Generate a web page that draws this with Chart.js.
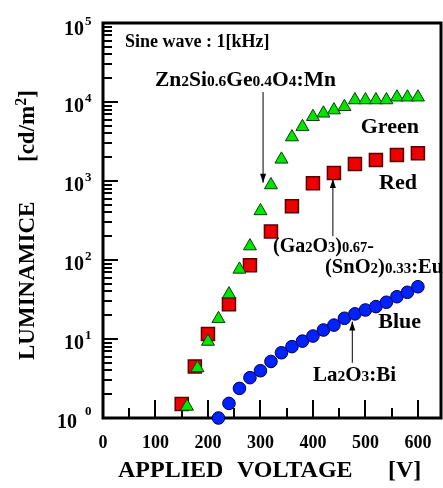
<!DOCTYPE html>
<html>
<head>
<meta charset="utf-8">
<script src="https://cdn.jsdelivr.net/npm/chart.js@4/dist/chart.umd.min.js"></script>
<style>
  html, body { margin: 0; padding: 0; background: #fff; overflow: hidden; }
  #c { display: block; }
</style>
</head>
<body>
<canvas id="c" width="443" height="488"></canvas>
<script>
// luminance vs applied voltage, sine wave 1 kHz
const greenVolts = [160, 180, 200, 220, 240, 260, 280, 300, 320, 340, 360, 380, 400, 420, 440, 460, 480, 500, 520, 540, 560, 580, 600];
const greenLum = [1.4, 4.3, 9.3, 18, 37, 76, 150, 418, 890, 1880, 3600, 4850, 6500, 7200, 7900, 8700, 10600, 10600, 10600, 10600, 11500, 11500, 11500];

const redVolts = [150, 175, 200, 240, 280, 320, 360, 400, 440, 480, 520, 560, 600];
const redLum = [1.5, 4.5, 11.6, 27.5, 86, 230, 480, 935, 1260, 1640, 1850, 2140, 2250];

const blueVolts = [220, 240, 260, 280, 300, 320, 340, 360, 380, 400, 420, 440, 460, 480, 500, 520, 540, 560, 580, 600];
const blueLum = [1.0, 1.53, 2.37, 3.24, 3.97, 5.2, 6.7, 8.0, 9.4, 10.9, 13, 15, 18.3, 20.8, 23.3, 25.7, 29.2, 34.3, 39, 45.9];

const xTickLabels = [0, 100, 200, 300, 400, 500, 600];
const xMinorTicks = [50, 150, 250, 350, 450, 550];
const yDecadeExps = [0, 1, 2, 3, 4, 5];

const SERIF = '"Liberation Serif", "Times New Roman", serif';
const font = (px) => 'bold ' + px + 'px ' + SERIF;

function pts(xs, ys) {
  return xs.map((v, i) => ({ x: v, y: ys[i] }));
}

// text made of parts [text, size, raise]
function rich(ctx, parts, x, y, align) {
  let w = 0;
  parts.forEach(p => { ctx.font = font(p[1]); w += ctx.measureText(p[0]).width; });
  let cx = align === 'right' ? x - w : align === 'center' ? x - w / 2 : x;
  ctx.textAlign = 'left';
  ctx.textBaseline = 'alphabetic';
  parts.forEach(p => {
    ctx.font = font(p[1]);
    ctx.fillText(p[0], cx, y - (p[2] || 0));
    cx += ctx.measureText(p[0]).width;
  });
}

function arrow(ctx, x, y1, y2) {
  ctx.beginPath();
  ctx.moveTo(x, y1);
  ctx.lineTo(x, y2);
  ctx.stroke();
  const d = y2 > y1 ? -1 : 1;
  ctx.beginPath();
  ctx.moveTo(x, y2);
  ctx.lineTo(x - 3, y2 + d * 9);
  ctx.lineTo(x + 3, y2 + d * 9);
  ctx.closePath();
  ctx.fill();
}

const framePlugin = {
  id: 'frame',
  beforeDatasetsDraw(chart) {
    const { ctx, chartArea: a, scales: { x, y } } = chart;
    ctx.save();
    ctx.strokeStyle = '#000';
    ctx.lineCap = 'square';
    ctx.lineWidth = 3;
    ctx.strokeRect(a.left, a.top, a.right - a.left, a.bottom - a.top);

    ctx.lineCap = 'butt';
    ctx.lineWidth = 2;
    ctx.beginPath();
    xTickLabels.concat(xMinorTicks).forEach(v => {
      if (v === 0) return;
      const px = Math.round(x.getPixelForValue(v));
      const len = v % 100 === 0 ? 18 : 10;
      ctx.moveTo(px, a.bottom);
      ctx.lineTo(px, a.bottom - len);
    });
    yDecadeExps.forEach(e => {
      for (let m = 1; m <= 9; m++) {
        if (e === 5 && m > 1) break;
        if (e === 0 && m === 1) continue;
        const py = Math.round(y.getPixelForValue(m * Math.pow(10, e)));
        const len = m === 1 ? 15 : 9;
        ctx.moveTo(a.left, py);
        ctx.lineTo(a.left + len, py);
      }
    });
    ctx.stroke();
    ctx.restore();
  },
  afterDraw(chart) {
    const { ctx, scales: { x, y } } = chart;
    ctx.save();
    ctx.fillStyle = '#000';
    ctx.strokeStyle = '#000';

    // x tick labels
    ctx.font = font(18);
    ctx.textAlign = 'center';
    ctx.textBaseline = 'middle';
    xTickLabels.forEach(v => ctx.fillText(String(v), x.getPixelForValue(v), 443));

    // y tick labels 10^n
    yDecadeExps.forEach(e => {
      const py = y.getPixelForValue(Math.pow(10, e));
      if (e === 0) {
        ctx.font = font(20); ctx.textAlign = 'right'; ctx.textBaseline = 'alphabetic';
        ctx.fillText('10', 77, py + 10);
        ctx.font = font(13); ctx.textAlign = 'left';
        ctx.fillText('0', 85, py - 3);
      } else {
        const off = e === 5 ? 12 : 10;
        ctx.font = font(20); ctx.textAlign = 'right'; ctx.textBaseline = 'alphabetic';
        ctx.fillText('10', 84, py + off);
        ctx.font = font(13); ctx.textAlign = 'left';
        ctx.fillText(String(e), 85, py + off - 10);
      }
    });

    // axis titles
    rich(ctx, [['APPLIED', 24]], 118, 477, 'left');
    rich(ctx, [['VOLTAGE', 24]], 237, 477, 'left');
    rich(ctx, [['[V]', 24]], 388, 477, 'left');
    ctx.save();
    ctx.translate(34, 0);
    ctx.rotate(-Math.PI / 2);
    rich(ctx, [['LUMINAMICE', 23]], -360, 0, 'left');
    rich(ctx, [['[cd/m', 23], ['2', 16, 8], [']', 23]], -162, 0, 'left');
    ctx.restore();

    // annotations
    rich(ctx, [['Sine wave : 1[kHz]', 18]], 125, 47, 'left');
    rich(ctx, [['Zn', 21.5], ['2', 15.5], ['Si', 21.5], ['0.6', 15.5], ['Ge', 21.5], ['0.4', 15.5], ['O', 21.5], ['4', 15.5], [':Mn', 21.5]], 155, 86, 'left');
    rich(ctx, [['Green', 22]], 419, 133, 'right');
    rich(ctx, [['Red', 22]], 417, 189, 'right');
    rich(ctx, [['Blue', 22]], 421, 328, 'right');
    rich(ctx, [['(Ga', 20], ['2', 14.5], ['O', 20], ['3', 14.5], [')', 20], ['0.67', 14.5], ['-', 20]], 273, 252, 'left');
    rich(ctx, [['(SnO', 20.5], ['2', 15], [')', 20.5], ['0.33', 15], [':Eu', 20.5]], 325, 273, 'left');
    rich(ctx, [['La', 21], ['2', 15.5], ['O', 21], ['3', 15.5], [':Bi', 21]], 313, 381, 'left');

    ctx.lineWidth = 1;
    arrow(ctx, x.getPixelForValue(305), y.getPixelForValue(13400), y.getPixelForValue(950));
    arrow(ctx, x.getPixelForValue(438), y.getPixelForValue(200), y.getPixelForValue(1060));
    arrow(ctx, x.getPixelForValue(475), y.getPixelForValue(5.0), y.getPixelForValue(16.6));
    ctx.restore();
  }
};

new Chart(document.getElementById('c'), {
  type: 'scatter',
  data: {
    datasets: [
      {
        label: 'Green',
        data: pts(greenVolts, greenLum),
        pointStyle: 'triangle',
        pointRadius: 7.5,
        backgroundColor: '#00e600',
        borderColor: '#0b3d0b',
        borderWidth: 1,
        clip: false
      },
      {
        label: 'Red',
        data: pts(redVolts, redLum),
        pointStyle: 'rect',
        pointRadius: 9.2,
        backgroundColor: '#ee0000',
        borderColor: '#5a0000',
        borderWidth: 1.5,
        clip: false
      },
      {
        label: 'Blue',
        data: pts(blueVolts, blueLum),
        pointStyle: 'circle',
        pointRadius: 6.3,
        backgroundColor: '#0022ff',
        borderColor: '#000044',
        borderWidth: 1,
        clip: false
      }
    ]
  },
  options: {
    responsive: false,
    animation: false,
    events: [],
    layout: { autoPadding: false, padding: { left: 103, top: 23, right: 2, bottom: 70 } },
    plugins: { legend: { display: false }, tooltip: { enabled: false } },
    scales: {
      x: { type: 'linear', min: 0, max: 644, display: false },
      y: { type: 'logarithmic', min: 1, max: 100000, display: false }
    }
  },
  plugins: [framePlugin]
});
</script>
</body>
</html>
